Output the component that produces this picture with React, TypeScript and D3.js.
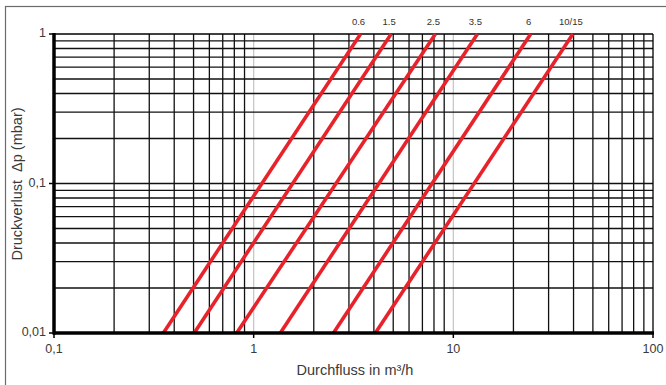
import React, { useEffect, useRef } from 'react'
import * as d3 from 'd3'

// valve sizes and the flow (m3/h) where each curve meets 0.01 and 1 mbar
const sizes = ['0.6', '1.5', '2.5', '3.5', '6', '10/15']
const flowAtLow = [0.353, 0.504, 0.822, 1.36, 2.51, 4.07]
const flowAtHigh = [3.43, 4.88, 8.13, 13.2, 24.4, 39.7]
const pressureEnds = [0.01, 1]

const xTicks = [0.1, 1, 10, 100]
const xTickLabels = ['0,1', '1', '10', '100']
const yTicks = [0.01, 0.1, 1]
const yTickLabels = ['0,01', '0,1', '1']

export default function App() {
  const ref = useRef<SVGSVGElement>(null)

  useEffect(() => {
    const svg = d3.select(ref.current)
    svg.selectAll('*').remove()

    const margin = { top: 34, left: 54 }
    const w = 599, h = 299
    const font = 'Liberation Sans, Arial, sans-serif'

    const x = d3.scaleLog().domain([0.1, 100]).range([0, w])
    const y = d3.scaleLog().domain([0.01, 1]).range([h, 0])

    // outer frame (only top and left edges are in view)
    svg.append('rect')
      .attr('x', 5.5).attr('y', 6.5)
      .attr('width', 700).attr('height', 400)
      .attr('fill', 'none').attr('stroke', '#6b6b6b').attr('stroke-width', 1.2)

    const g = svg.append('g').attr('transform', `translate(${margin.left}, ${margin.top})`)

    // minor grid
    const xMinor: number[] = []
    for (let e = -1; e <= 1; e++) for (let k = 2; k <= 9; k++) xMinor.push(k * Math.pow(10, e))
    const yMinor: number[] = []
    for (let e = -2; e <= -1; e++) for (let k = 2; k <= 9; k++) yMinor.push(k * Math.pow(10, e))

    g.selectAll('.vgrid').data(xMinor).join('line').attr('class', 'vgrid')
      .attr('x1', d => x(d)).attr('x2', d => x(d))
      .attr('y1', 0).attr('y2', h)
      .attr('stroke', '#111').attr('stroke-width', 1.3)

    g.selectAll('.vdec').data([1, 10]).join('line').attr('class', 'vdec')
      .attr('x1', d => x(d)).attr('x2', d => x(d))
      .attr('y1', 0).attr('y2', h)
      .attr('stroke', '#c8c8c8').attr('stroke-width', 1.3)

    g.selectAll('.hgrid').data(yMinor.concat([0.1])).join('line').attr('class', 'hgrid')
      .attr('x1', 0).attr('x2', w)
      .attr('y1', d => y(d)).attr('y2', d => y(d))
      .attr('stroke', '#111').attr('stroke-width', 1.3)

    // top and right border of plot
    g.append('line').attr('x1', 0).attr('x2', w).attr('y1', 0).attr('y2', 0)
      .attr('stroke', '#000').attr('stroke-width', 1.5)
    g.append('line').attr('x1', w).attr('x2', w).attr('y1', 0).attr('y2', h)
      .attr('stroke', '#000').attr('stroke-width', 1.3)

    // curves
    const data = sizes.map((s, i) => ({
      size: s,
      pts: [[flowAtLow[i], pressureEnds[0]], [flowAtHigh[i], pressureEnds[1]]]
    }))
    const line = d3.line<number[]>().x(d => x(d[0])).y(d => y(d[1]))
    g.selectAll('.curve').data(data).join('path').attr('class', 'curve')
      .attr('d', d => line(d.pts))
      .attr('fill', 'none').attr('stroke', '#e8222b').attr('stroke-width', 3.6)

    g.selectAll('.curve_label').data(data).join('text').attr('class', 'curve_label')
      .attr('x', d => x(d.pts[1][0]) - 2)
      .attr('y', -9)
      .attr('text-anchor', 'middle')
      .style('font-family', font)
      .style('font-size', '9.5px')
      .style('fill', '#333')
      .text(d => d.size)

    // axes
    g.append('line').attr('x1', 0).attr('x2', 0).attr('y1', -1).attr('y2', h + 1.5)
      .attr('stroke', '#000').attr('stroke-width', 3.5)
    g.append('line').attr('x1', -1).attr('x2', w + 1).attr('y1', h).attr('y2', h)
      .attr('stroke', '#000').attr('stroke-width', 3.5)

    g.selectAll('.xtick').data(xTicks).join('line').attr('class', 'xtick')
      .attr('x1', d => x(d)).attr('x2', d => x(d)).attr('y1', h).attr('y2', h + 5)
      .attr('stroke', '#000').attr('stroke-width', 1.5)
    g.selectAll('.ytick').data(yTicks).join('line').attr('class', 'ytick')
      .attr('x1', -5).attr('x2', 0).attr('y1', d => y(d)).attr('y2', d => y(d))
      .attr('stroke', '#000').attr('stroke-width', 1.5)

    g.selectAll('.xlab').data(xTicks).join('text').attr('class', 'xlab')
      .attr('x', d => x(d)).attr('y', h + 20)
      .attr('text-anchor', 'middle')
      .style('font-family', font)
      .style('font-size', '12.5px').style('fill', '#3a3a3a')
      .text((d, i) => xTickLabels[i])

    g.selectAll('.ylab').data(yTicks).join('text').attr('class', 'ylab')
      .attr('x', -8).attr('y', d => y(d) + 3)
      .attr('text-anchor', 'end')
      .style('font-family', font)
      .style('font-size', '12.5px').style('fill', '#3a3a3a')
      .text((d, i) => yTickLabels[i])

    // titles
    svg.append('text')
      .attr('x', 355).attr('y', 375)
      .attr('text-anchor', 'middle')
      .style('font-family', font)
      .style('font-size', '14.5px').style('fill', '#3a3a3a')
      .text('Durchfluss in m³/h')

    svg.append('text')
      .attr('transform', 'translate(22, 184) rotate(-90)')
      .attr('text-anchor', 'middle')
      .style('font-family', font)
      .style('font-size', '14.5px').style('fill', '#3a3a3a')
      .style('white-space', 'pre')
      .text('Druckverlust  Δp (mbar)')
  }, [])

  return (
    <svg ref={ref} width={666} height={385}
      style={{ position: 'absolute', left: 0, top: 0, background: '#fff' }} />
  )
}
